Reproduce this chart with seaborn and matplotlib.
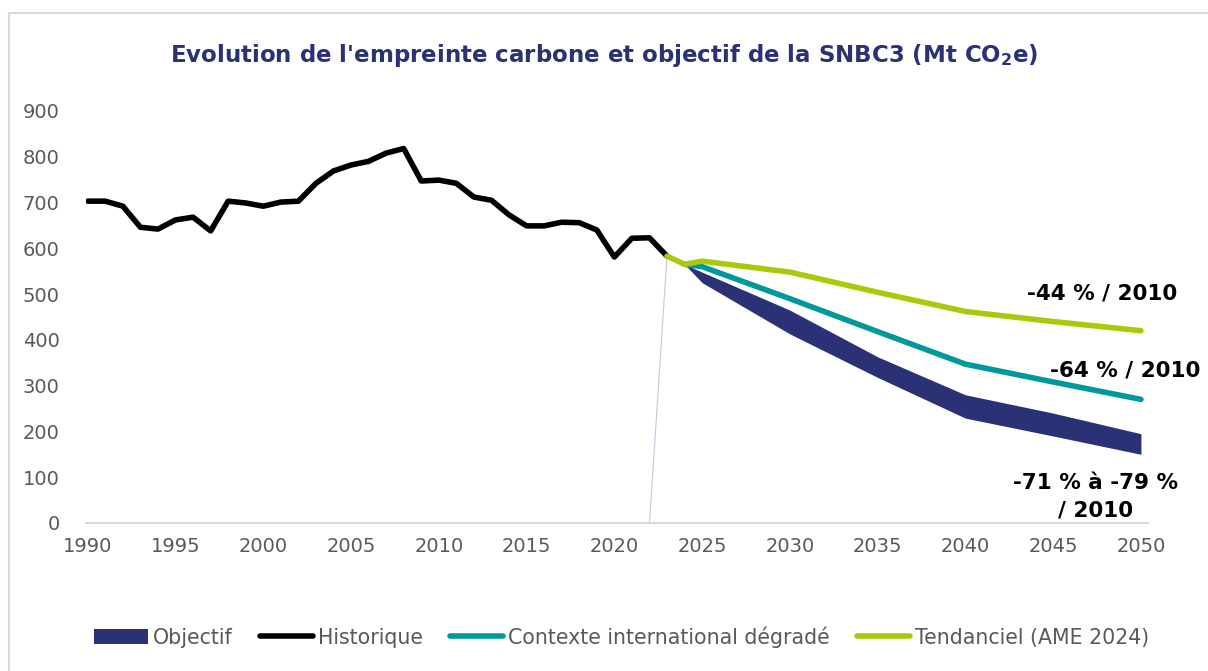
import numpy as np
import pandas as pd
import seaborn as sns
import matplotlib.pyplot as plt
from matplotlib.patches import Patch
from matplotlib.lines import Line2D

sns.set_theme(style="white")
plt.rcParams['font.family'] = ['DejaVu Sans']
plt.rcParams['mathtext.fontset'] = 'dejavusans'

# historical carbon footprint (Mt CO2e)
hist_years = list(range(1990, 2024))
hist_values = [703, 703, 692, 646, 642, 662, 668, 638, 703, 699,
               692, 701, 703, 742, 769, 782, 790, 808, 818, 747,
               749, 742, 712, 705, 673, 649, 649, 657, 656, 640,
               581, 622, 623, 583]

# trend scenario (AME 2024)
tend_years = [2023, 2024, 2025, 2030, 2035, 2040, 2045, 2050]
tend_values = [583, 565, 572, 548, 504, 462, 440, 420]

# degraded international context
ctx_years = [2024, 2025, 2030, 2035, 2040, 2045, 2050]
ctx_values = [565, 560, 490, 418, 347, 308, 270]

# SNBC3 objective range
obj_years = [2024, 2025, 2030, 2035, 2040, 2045, 2050]
obj_high = [565, 548, 465, 363, 280, 240, 195]
obj_low = [565, 525, 413, 318, 229, 190, 150]

# thin connector line of the objective series
conn_years = [2022, 2023]
conn_values = [0, 583]

annotations = ["-44 % / 2010", "-64 % / 2010", "-71 % à -79 %\n/ 2010"]

navy = "#2a3275"
black = "#000000"
teal = "#00989a"
green = "#a9c90b"
grey = "#595959"

hist = pd.DataFrame({"year": hist_years, "value": hist_values})
tend = pd.DataFrame({"year": tend_years, "value": tend_values})
ctx = pd.DataFrame({"year": ctx_years, "value": ctx_values})
conn = pd.DataFrame({"year": conn_years, "value": conn_values})

fig = plt.figure(figsize=(12.08, 6.71), dpi=100)
ax = fig.add_axes([0.0712, 0.2206, 0.8791, 0.614])

ax.fill_between(obj_years, obj_low, obj_high, color=navy, lw=0, zorder=2)
sns.lineplot(data=conn, x="year", y="value", ax=ax, color="#c5c9e0", lw=0.8, zorder=1)
sns.lineplot(data=hist, x="year", y="value", ax=ax, color=black, lw=4, zorder=3)
sns.lineplot(data=ctx, x="year", y="value", ax=ax, color=teal, lw=4, zorder=4,
             solid_capstyle="round")
sns.lineplot(data=tend, x="year", y="value", ax=ax, color=green, lw=4, zorder=5,
             solid_capstyle="round")

ax.set_xlim(1989.9, 2050.4)
ax.set_ylim(0, 900)
ax.set_xticks(range(1990, 2051, 5))
ax.set_yticks(range(0, 901, 100))
ax.set_xlabel("")
ax.set_ylabel("")
ax.tick_params(axis="both", length=0, labelsize=14, colors=grey)
ax.tick_params(axis="x", pad=10)
ax.tick_params(axis="y", pad=19)
for s in ["top", "right", "left"]:
    ax.spines[s].set_visible(False)
ax.spines["bottom"].set_color("#d9d9d9")
ax.spines["bottom"].set_linewidth(1.5)

fig.text(0.5, 0.918, r"Evolution de l'empreinte carbone et objectif de la SNBC3 (Mt CO$_\mathbf{2}$e)",
         ha="center", va="center", fontsize=16.5, fontweight="bold", color=navy)

ax.text(2047.8, 502, annotations[0], ha="center", va="center", fontsize=15.5,
        fontweight="bold", color=black)
ax.text(2049.1, 332, annotations[1], ha="center", va="center", fontsize=15.5,
        fontweight="bold", color=black)
ax.text(2047.4, 57, annotations[2], ha="center", va="center", fontsize=15.5,
        fontweight="bold", color=black, linespacing=1.45)

handles = [Patch(facecolor=navy, edgecolor="none"),
           Line2D([], [], color=black, lw=4, solid_capstyle="round"),
           Line2D([], [], color=teal, lw=4, solid_capstyle="round"),
           Line2D([], [], color=green, lw=4, solid_capstyle="round")]
labels = ["Objectif", "Historique", "Contexte international dégradé", "Tendanciel (AME 2024)"]
fig.legend(handles, labels, loc="center", bbox_to_anchor=(0.515, 0.051), ncol=4, frameon=False,
           fontsize=14.8, handlelength=2.6, handletextpad=0.25, columnspacing=1.3,
           labelcolor=grey)

# chart frame
fig.add_artist(Line2D([9 / 1208, 9 / 1208], [0, 1 - 13 / 671], transform=fig.transFigure,
                      color="#d9d9d9", lw=1.5))
fig.add_artist(Line2D([9 / 1208, 1], [1 - 13 / 671, 1 - 13 / 671], transform=fig.transFigure,
                      color="#d9d9d9", lw=1.5))

fig.savefig("out.png", dpi=100)
